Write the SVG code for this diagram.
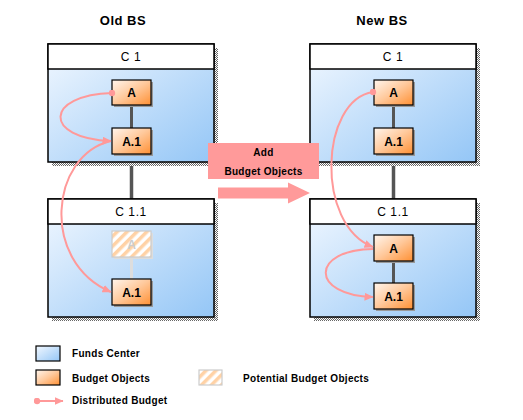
<svg xmlns="http://www.w3.org/2000/svg" width="523" height="420" viewBox="0 0 523 420">
<defs>
<linearGradient id="blue" x1="0" y1="0" x2="1" y2="1">
<stop offset="0" stop-color="#f2f8ff"/>
<stop offset="1" stop-color="#94c6f6"/>
</linearGradient>
<linearGradient id="orange" x1="0" y1="0" x2="1" y2="1">
<stop offset="0" stop-color="#fff6ee"/>
<stop offset="0.5" stop-color="#ffc89a"/>
<stop offset="1" stop-color="#ff9033"/>
</linearGradient>
<pattern id="checker" width="2" height="2" patternUnits="userSpaceOnUse">
<rect width="2" height="2" fill="#ffffff"/>
<rect width="1" height="1" fill="#666"/>
<rect x="1" y="1" width="1" height="1" fill="#666"/>
</pattern>
<pattern id="hatch" width="7" height="7" patternUnits="userSpaceOnUse" patternTransform="rotate(45)">
<rect width="7" height="7" fill="#ffffff"/>
<rect width="3.5" height="7" fill="#ffd2a6"/>
</pattern>
<marker id="ah" markerWidth="9" markerHeight="8" refX="8.5" refY="4" orient="auto" markerUnits="userSpaceOnUse">
<path d="M0,0 L9,4 L0,8 Z" fill="#ff9999"/>
</marker>
<marker id="dot" markerWidth="7" markerHeight="7" refX="3.5" refY="3.5" markerUnits="userSpaceOnUse">
<circle cx="3.5" cy="3.5" r="3.2" fill="#ff9999"/>
</marker>
</defs>
<style>
.title{font-family:"Liberation Sans",Arial,sans-serif;font-weight:bold;font-size:13px;fill:#000;text-anchor:middle;letter-spacing:0.5px}
.hdr{font-family:"Liberation Sans",Arial,sans-serif;font-size:12px;fill:#000;text-anchor:middle;letter-spacing:0.6px}
.lbl{font-family:"Liberation Sans",Arial,sans-serif;font-weight:bold;font-size:12px;fill:#000;text-anchor:middle}
.leg{font-family:"Liberation Sans",Arial,sans-serif;font-weight:bold;font-size:10px;fill:#000;letter-spacing:0.3px}
.fc{fill:url(#blue);stroke:#000;stroke-width:1.5}
.fh{fill:#fff;stroke:#000;stroke-width:1.5}
.sh{fill:url(#checker)}
.bo{fill:url(#orange);stroke:#000;stroke-width:1.2}
.bsh{fill:#999}
.pot{fill:url(#hatch);stroke:#cccccc;stroke-width:1.2}
.link{stroke:#555;stroke-width:3.5}
.ilink{stroke:#555;stroke-width:3}
.dist{fill:none;stroke:#ff9999;stroke-width:2}
</style>

<text class="title" x="123" y="25">Old BS</text>
<text class="title" x="382" y="25">New BS</text>

<g id="connectors">
<line class="link" x1="131.5" y1="162" x2="131.5" y2="200"/>
<line class="link" x1="393.5" y1="162" x2="393.5" y2="200"/>
</g>

<!-- Old BS C 1 -->
<g id="old-c1">
<rect class="sh" x="52" y="48" width="166" height="118"/>
<rect class="fc" x="48" y="44" width="166" height="118"/>
<rect class="fh" x="48" y="44" width="166" height="25"/>
<text class="hdr" x="131" y="61">C 1</text>
<line class="ilink" x1="131.5" y1="105" x2="131.5" y2="128"/>
<g id="old-c1-a">
<rect class="bsh" x="114" y="82" width="39" height="25"/>
<rect class="bo" x="112" y="80" width="39" height="25"/>
<text class="lbl" x="131.5" y="97">A</text>
</g>
<g id="old-c1-a1">
<rect class="bsh" x="114" y="130" width="39" height="26"/>
<rect class="bo" x="112" y="128" width="39" height="26"/>
<text class="lbl" x="131.5" y="146">A.1</text>
</g>
</g>

<!-- Old BS C 1.1 -->
<g id="old-c11">
<rect class="sh" x="52" y="203" width="166" height="118"/>
<rect class="fc" x="48" y="199" width="166" height="118"/>
<rect class="fh" x="48" y="199" width="166" height="25"/>
<text class="hdr" x="131" y="216">C 1.1</text>
<line x1="131.5" y1="258" x2="131.5" y2="279" stroke="#dddddd" stroke-width="3"/>
<g id="old-c11-a">
<rect x="114" y="233" width="39" height="26" fill="#dddddd"/>
<rect class="pot" x="112" y="231" width="39" height="26"/>
<text class="lbl" x="131.5" y="249" style="fill:#cccccc">A</text>
</g>
<g id="old-c11-a1">
<rect class="bsh" x="114" y="281" width="39" height="26"/>
<rect class="bo" x="112" y="279" width="39" height="26"/>
<text class="lbl" x="131.5" y="297">A.1</text>
</g>
</g>

<!-- New BS C 1 -->
<g id="new-c1">
<rect class="sh" x="314" y="48" width="166" height="118"/>
<rect class="fc" x="310" y="44" width="166" height="118"/>
<rect class="fh" x="310" y="44" width="166" height="25"/>
<text class="hdr" x="393" y="61">C 1</text>
<line class="ilink" x1="393.5" y1="105" x2="393.5" y2="128"/>
<g id="new-c1-a">
<rect class="bsh" x="376" y="82" width="39" height="25"/>
<rect class="bo" x="374" y="80" width="39" height="25"/>
<text class="lbl" x="393.5" y="97">A</text>
</g>
<g id="new-c1-a1">
<rect class="bsh" x="376" y="130" width="39" height="26"/>
<rect class="bo" x="374" y="128" width="39" height="26"/>
<text class="lbl" x="393.5" y="146">A.1</text>
</g>
</g>

<!-- New BS C 1.1 -->
<g id="new-c11">
<rect class="sh" x="314" y="203" width="166" height="118"/>
<rect class="fc" x="310" y="199" width="166" height="118"/>
<rect class="fh" x="310" y="199" width="166" height="25"/>
<text class="hdr" x="393" y="216">C 1.1</text>
<line class="ilink" x1="393.5" y1="261" x2="393.5" y2="283"/>
<g id="new-c11-a">
<rect class="bsh" x="376" y="237" width="39" height="26"/>
<rect class="bo" x="374" y="235" width="39" height="26"/>
<text class="lbl" x="393.5" y="253">A</text>
</g>
<g id="new-c11-a1">
<rect class="bsh" x="376" y="285" width="39" height="26"/>
<rect class="bo" x="374" y="283" width="39" height="26"/>
<text class="lbl" x="393.5" y="301">A.1</text>
</g>
</g>

<!-- Add Budget Objects -->
<g id="add">
<rect x="208" y="143" width="111" height="36" fill="#ff9a9a"/>
<text class="leg" x="263.5" y="156" text-anchor="middle">Add</text>
<text class="leg" x="263.5" y="175" text-anchor="middle">Budget Objects</text>
<path d="M218,187.5 L288,187.5 L288,182.5 L310,193 L288,203.5 L288,198.5 L218,198.5 Z" fill="#ff9a9a"/>
</g>

<g id="distributed">
<path class="dist" d="M112,93 C45,95 42,138 111,141" marker-start="url(#dot)" marker-end="url(#ah)"/>
<path class="dist" d="M111,141 C50,155 40,262 111,292" marker-end="url(#ah)"/>
<path class="dist" d="M373,92 C320,100 315,225 373,247" marker-start="url(#dot)" marker-end="url(#ah)"/>
<path class="dist" d="M373,249 C310,250 310,295 373,297" marker-end="url(#ah)"/>
</g>

<!-- Legend -->
<g id="legend">
<rect class="fc" x="36" y="346" width="24" height="15" style="stroke-width:1.2"/>
<text class="leg" x="72" y="357">Funds Center</text>
<rect class="bo" x="36" y="370" width="24" height="15"/>
<text class="leg" x="72" y="382">Budget Objects</text>
<rect class="pot" x="199" y="370" width="23" height="15"/>
<text class="leg" x="243" y="382">Potential Budget Objects</text>
<line class="dist" x1="37" y1="401" x2="63" y2="401" marker-start="url(#dot)" marker-end="url(#ah)"/>
<text class="leg" x="72" y="404">Distributed Budget</text>
</g>
</svg>
